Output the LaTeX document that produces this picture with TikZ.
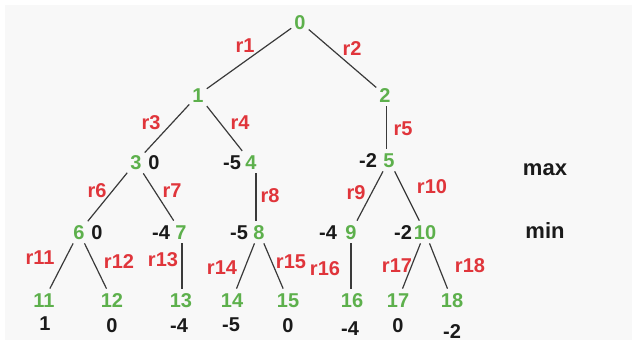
\documentclass[tikz,border=0pt]{standalone}
\usepackage{fontspec}
\setmainfont{Liberation Sans}
\definecolor{ngreen}{HTML}{5DB04C}
\definecolor{ered}{HTML}{E0353B}
\definecolor{ink}{HTML}{1A1A1A}
\definecolor{edgec}{HTML}{3A3A3A}
\definecolor{bgc}{HTML}{F8F8F8}
\begin{document}
\begin{tikzpicture}[x=1pt,y=-1pt,
  every node/.style={font=\fontsize{20}{20}\selectfont\bfseries, inner sep=0pt, text height=14.3pt, text depth=0pt},
  state/.style={text=ngreen, inner xsep=3pt, inner ysep=4pt},
  val/.style={text=ink},
  rlab/.style={text=ered},
  lvl/.style={text=ink, font=\fontsize{22}{22}\selectfont\bfseries, text height=11.5pt},
  edge/.style={draw=edgec, line width=1.2pt}]
\useasboundingbox (0,0) rectangle (637,345);
\fill[bgc] (5,5) rectangle (632,340);
% states
\node[state] (n0) at (300,22) {0};
\node[state] (n1) at (198,95) {1};
\node[state] (n2) at (385,95) {2};
\node[state] (n3) at (136,162) {3};
\node[state] (n4) at (251,162) {4};
\node[state] (n5) at (389,160) {5};
\node[state] (n6) at (79,232) {6};
\node[state] (n7) at (181,232) {7};
\node[state] (n8) at (259,232) {8};
\node[state] (n9) at (351,232) {9};
\node[state] (n10) at (425,232) {10};
\node[state] (n11) at (44,300) {11};
\node[state] (n12) at (112,300) {12};
\node[state] (n13) at (181,300) {13};
\node[state] (n14) at (232,300) {14};
\node[state] (n15) at (288,300) {15};
\node[state] (n16) at (352,300) {16};
\node[state] (n17) at (398,300) {17};
\node[state] (n18) at (452,300) {18};
% values
\node[val] (v3) at (154,162) {0};
\node[val] (v4) at (232,162) {-5};
\node[val] (v5) at (368,160) {-2};
\node[val] (v6) at (97,232) {0};
\node[val] (v7) at (161,232) {-4};
\node[val] (v8) at (239,232) {-5};
\node[val] (v9) at (328,232) {-4};
\node[val] (v10) at (403,232) {-2};
\node[val] (v11) at (45,323) {1};
\node[val] (v12) at (112,325) {0};
\node[val] (v13) at (179,325) {-4};
\node[val] (v14) at (231,324) {-5};
\node[val] (v15) at (288,325) {0};
\node[val] (v16) at (350,328) {-4};
\node[val] (v17) at (398,325) {0};
\node[val] (v18) at (452,331) {-2};
% level labels
\node[lvl] (lmax) at (545,170) {max};
\node[lvl] (lmin) at (545,233) {min};
% edges
\draw[edge] (n0) -- (n1);
\draw[edge] (n0) -- (n2);
\draw[edge] (n1) -- (n3);
\draw[edge] (n1) -- (n4);
\draw[edge] ([xshift=-2.5pt]n5.north) -- ([xshift=-2.5pt]n5.north |- n2.south);
\draw[edge] (n3) -- (n6);
\draw[edge] (n3) -- (n7);
\draw[edge] ([xshift=-3pt]n8.north) -- ([xshift=-3pt]n8.north |- n4.south);
\draw[edge] (n5) -- (n9);
\draw[edge] (n5) -- (n10);
\draw[edge] (n6) -- (n11);
\draw[edge] (n6) -- (n12);
\draw[edge] ([xshift=1pt]n13.north) -- ([xshift=1pt]n13.north |- n7.south);
\draw[edge] (n8) -- (n14);
\draw[edge] (n8) -- (n15);
\draw[edge] ([xshift=-1pt]n16.north) -- ([xshift=-1pt]n16.north |- n9.south);
\draw[edge] (n10) -- (n17);
\draw[edge] (n10) -- (n18);
% edge labels
\node[rlab] (r1) at (245,45) {r1};
\node[rlab] (r2) at (352,48) {r2};
\node[rlab] (r3) at (151,122) {r3};
\node[rlab] (r4) at (240,122) {r4};
\node[rlab] (r5) at (403,128) {r5};
\node[rlab] (r6) at (97,190) {r6};
\node[rlab] (r7) at (172,190) {r7};
\node[rlab] (r8) at (270,195) {r8};
\node[rlab] (r9) at (356,192) {r9};
\node[rlab] (r10) at (432,186) {r10};
\node[rlab] (r11) at (40,257) {r11};
\node[rlab] (r12) at (119,261) {r12};
\node[rlab] (r13) at (163,259) {r13};
\node[rlab] (r14) at (222,267) {r14};
\node[rlab] (r15) at (291,261) {r15};
\node[rlab] (r16) at (325,268) {r16};
\node[rlab] (r17) at (397,265) {r17};
\node[rlab] (r18) at (470,265) {r18};
\end{tikzpicture}
\end{document}
